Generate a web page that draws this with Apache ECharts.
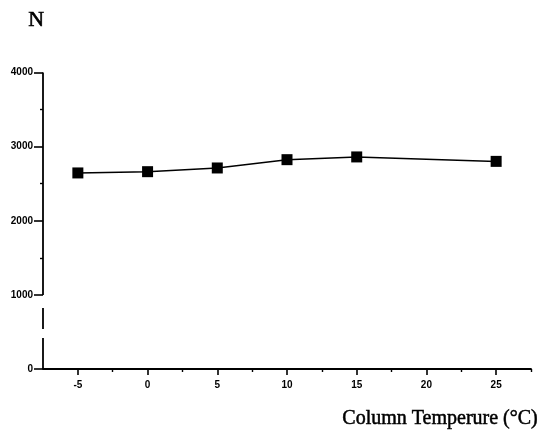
<!DOCTYPE html>
<html><head><meta charset="utf-8">
<script src="https://cdn.jsdelivr.net/npm/echarts@6/dist/echarts.min.js"></script>
<style>html,body{margin:0;background:#fff}#c{width:539px;height:430px}</style>
</head><body><div id="c"></div>
<script>
// Data
const temps = [-5, 0, 5, 10, 15, 25];
const nValues = [2645, 2662, 2712, 2824, 2861, 2801];
// Tick labels / tick values
const xMajorTicks = [-5, 0, 5, 10, 15, 20, 25];
const xMinorTicks = [-2.5, 2.5, 7.5, 12.5, 17.5, 22.5, 27.5];
const yMajorTicks = [0, 1000, 2000, 3000, 4000];
const yMinorTicks = [1500, 2500, 3500];
// Broken y-axis line pieces (value ranges drawn)
const yAxisPieces = [[1000, 4000], [540, 824], [0, 419]];

const X_MIN = -7.5, X_MAX = 27.5, Y_MIN = 0, Y_MAX = 4000;
const labelFont = {fontFamily: 'Liberation Sans', fontWeight: 'bold', fontSize: 10, color: '#000'};

const chart = echarts.init(document.getElementById('c'), null, {renderer: 'canvas'});

const axisPieceSeries = yAxisPieces.map(p => ({
  type: 'line', xAxisIndex: 0, yAxisIndex: 0, silent: true, symbol: 'none',
  clip: false, animation: false,
  lineStyle: {color: '#000', width: 1.8},
  data: [[X_MIN, p[0]], [X_MIN, p[1]]]
}));

chart.setOption({
  animation: false,
  backgroundColor: '#fff',
  grid: {left: 43, top: 72.5, width: 488, height: 296.5},
  graphic: [
    {type: 'text', left: 28, top: 9, style: {text: 'N', font: '22px "Liberation Serif"', fill: '#000', stroke: '#000', lineWidth: 0.6}},
    {type: 'text', right: 1, top: 408, style: {text: 'Column Temperure (°C)', font: '20px "Liberation Serif"', fill: '#000', stroke: '#000', lineWidth: 0.5}}
  ],
  xAxis: [
    {
      type: 'value', min: X_MIN, max: X_MAX, interval: 2.5, position: 'bottom',
      axisLine: {show: true, onZero: false, lineStyle: {color: '#000', width: 1.8}},
      axisTick: {show: true, customValues: xMajorTicks, length: 6, lineStyle: {color: '#000', width: 1.6}},
      axisLabel: Object.assign({customValues: xMajorTicks, margin: 11, formatter: v => String(v)}, labelFont),
      splitLine: {show: false}
    },
    {
      type: 'value', min: X_MIN, max: X_MAX, interval: 2.5, position: 'bottom', offset: 0,
      axisLine: {show: false, onZero: false},
      axisTick: {show: true, customValues: xMinorTicks, length: 3, lineStyle: {color: '#000', width: 1.4}},
      axisLabel: {show: false},
      splitLine: {show: false}
    }
  ],
  yAxis: [
    {
      type: 'value', min: Y_MIN, max: Y_MAX, interval: 1000, position: 'left',
      axisLine: {show: false, onZero: false},
      axisTick: {show: true, customValues: yMajorTicks, length: 9, lineStyle: {color: '#000', width: 1.6}},
      axisLabel: Object.assign({customValues: yMajorTicks, margin: 10, formatter: v => String(v)}, labelFont),
      splitLine: {show: false}
    },
    {
      type: 'value', min: Y_MIN, max: Y_MAX, interval: 500, position: 'left', offset: 0,
      axisLine: {show: false, onZero: false},
      axisTick: {show: true, customValues: yMinorTicks, length: 3, lineStyle: {color: '#000', width: 1.4}},
      axisLabel: {show: false},
      splitLine: {show: false}
    }
  ],
  series: [
    ...axisPieceSeries,
    {
      type: 'line', xAxisIndex: 0, yAxisIndex: 0,
      data: temps.map((t, i) => [t, nValues[i]]),
      symbol: 'rect', symbolSize: 11, showAllSymbol: true,
      itemStyle: {color: '#000'},
      lineStyle: {color: '#000', width: 1.5}
    }
  ]
});
</script>
</body></html>
